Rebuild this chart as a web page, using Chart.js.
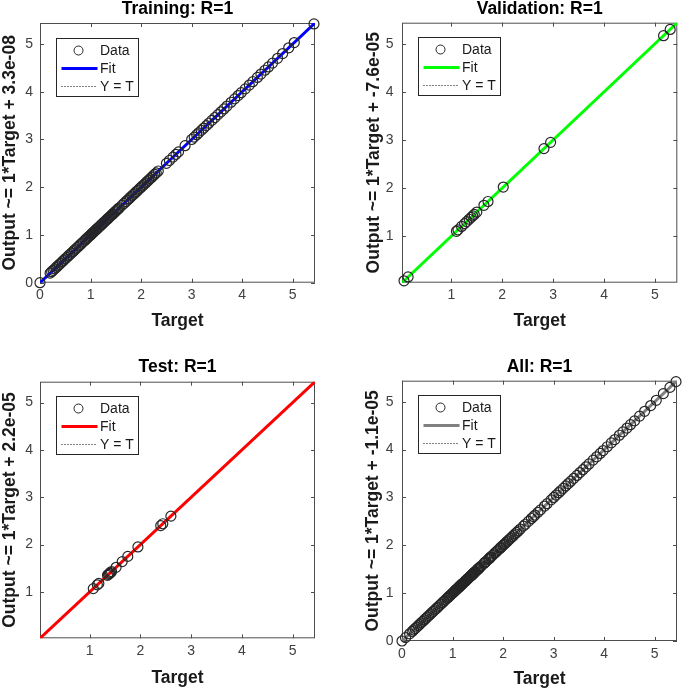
<!DOCTYPE html>
<html>
<head>
<meta charset="utf-8">
<title>Regression</title>
<script src="https://cdn.jsdelivr.net/npm/chart.js@4.4.1/dist/chart.umd.min.js"></script>
<style>
  html, body { margin: 0; padding: 0; background: #fff; }
  body { width: 685px; height: 691px; position: relative; overflow: hidden; }
  canvas { position: absolute; }
</style>
</head>
<body>
<canvas id="trainChart" width="342" height="340" style="left:0;top:0"></canvas>
<canvas id="valChart" width="323" height="340" style="left:362px;top:0"></canvas>
<canvas id="testChart" width="342" height="346" style="left:0;top:345px"></canvas>
<canvas id="allChart" width="323" height="346" style="left:362px;top:345px"></canvas>
<script>
// targets (outputs sit on the same values, R=1)
const trainTargets = [0.00, 0.20, 0.23, 0.26, 0.29, 0.32, 0.35, 0.38, 0.41, 0.44, 0.47, 0.50, 0.53, 0.56, 0.59,
  0.62, 0.65, 0.68, 0.71, 0.74, 0.77, 0.80, 0.83, 0.86, 0.89, 0.91, 0.93, 0.95, 0.97, 0.99, 1.01, 1.03, 1.05,
  1.07, 1.09, 1.11, 1.13, 1.15, 1.17, 1.19, 1.21, 1.23, 1.25, 1.27, 1.29, 1.31, 1.33, 1.35, 1.37, 1.39, 1.41,
  1.43, 1.45, 1.47, 1.49, 1.51, 1.53, 1.55, 1.57, 1.62, 1.66, 1.70, 1.73, 1.76, 1.79, 1.82, 1.85, 1.88, 1.91,
  1.94, 1.97, 2.00, 2.03, 2.06, 2.09, 2.12, 2.15, 2.18, 2.21, 2.24, 2.27, 2.30, 2.34, 2.50, 2.56, 2.63, 2.69,
  2.74, 2.87, 3.00, 3.05, 3.10, 3.14, 3.19, 3.24, 3.29, 3.34, 3.40, 3.46, 3.52, 3.58, 3.64, 3.70, 3.78, 3.85,
  3.92, 3.98, 4.06, 4.14, 4.21, 4.30, 4.37, 4.45, 4.52, 4.60, 4.70, 4.80, 4.92, 5.03, 5.42];
const valTargets = [0.07, 0.15, 1.10, 1.13, 1.20, 1.26, 1.30, 1.35, 1.39, 1.42, 1.45, 1.50, 1.64, 1.72,
  2.02, 2.82, 2.95, 5.17, 5.30];
const testTargets = [1.07, 1.15, 1.18, 1.35, 1.37, 1.39, 1.41, 1.43, 1.52, 1.64, 1.75, 1.95, 2.40, 2.44, 2.60];
const allTargets = trainTargets.concat(valTargets, testTargets);

const panelNames = ['Training', 'Validation', 'Test', 'All'];
const rValues = ['1', '1', '1', '1'];
const fitSlopes = [1, 1, 1, 1];
const fitIntercepts = ['3.3e-08', '-7.6e-05', '2.2e-05', '-1.1e-05'];
const fitColors = ['#0000ff', '#00ff00', '#ff0000', '#808080'];
const axisMin = [0, 0.03, 0.02, 0];
const axisMax = [5.44, 5.44, 5.44, 5.44];
const tickValues = [0, 1, 2, 3, 4, 5];

const FONT = "'Liberation Sans', Arial, Helvetica, sans-serif";

// per panel layout, so the plot boxes land where the original figure has them
const layouts = [
  { padRight: 27, xAxisHeight: 57.3, titleTop: 0, titleBottom: 5.5, yTitlePad: 1.3, xTitlePad: 10.2, yTickPad: 7 },
  { padRight: 7.7, xAxisHeight: 57.3, titleTop: 0, titleBottom: 5.2, yTitlePad: 3, xTitlePad: 10.2, yTickPad: 8.5 },
  { padRight: 27, xAxisHeight: 52.7, titleTop: 13.8, titleBottom: 5.4, yTitlePad: 1.3, xTitlePad: 4, yTickPad: 7 },
  { padRight: 8, xAxisHeight: 50, titleTop: 13.8, titleBottom: 4.4, yTitlePad: 2.6, xTitlePad: 3.5, yTickPad: 8.5 }
];

const axesBox = {
  id: 'axesBox',
  beforeDatasetsDraw(chart) {
    const { ctx, chartArea: a, scales: { x, y } } = chart;
    ctx.save();
    ctx.strokeStyle = '#4d4d4d';
    ctx.lineWidth = 1;
    ctx.strokeRect(a.left + 0.5, a.top + 0.5, a.right - a.left - 1, a.bottom - a.top - 1);
    ctx.beginPath();
    x.ticks.forEach(t => {
      const px = Math.round(x.getPixelForValue(t.value)) + 0.5;
      ctx.moveTo(px, a.bottom); ctx.lineTo(px, a.bottom - 4);
      ctx.moveTo(px, a.top); ctx.lineTo(px, a.top + 4);
    });
    y.ticks.forEach(t => {
      const py = Math.round(y.getPixelForValue(t.value)) + 0.5;
      ctx.moveTo(a.left, py); ctx.lineTo(a.left + 4, py);
      ctx.moveTo(a.right, py); ctx.lineTo(a.right - 4, py);
    });
    ctx.stroke();
    ctx.restore();
  }
};

// boxed legend inside the axes, top left, like the original figure
const boxLegend = {
  id: 'boxLegend',
  afterDatasetsDraw(chart) {
    const { ctx, chartArea: a } = chart;
    const bx = Math.round(a.left + 15.5) + 0.5;
    const by = Math.round(a.top + 14.7) + 0.5;
    const bw = 82, bh = 58;
    ctx.save();
    ctx.fillStyle = '#fff';
    ctx.fillRect(bx, by, bw, bh);
    ctx.strokeStyle = '#262626';
    ctx.lineWidth = 1;
    ctx.strokeRect(bx, by, bw, bh);
    ctx.font = '14px ' + FONT;
    ctx.textBaseline = 'middle';
    ctx.textAlign = 'left';
    chart.data.datasets.forEach((ds, i) => {
      const ry = by + 12 + i * 18;
      ctx.save();
      if (!ds.showLine) {
        ctx.beginPath();
        ctx.arc(bx + 22, ry, 4.5, 0, Math.PI * 2);
        ctx.strokeStyle = ds.pointBorderColor;
        ctx.lineWidth = 1;
        ctx.stroke();
      } else {
        ctx.beginPath();
        ctx.setLineDash(ds.borderDash || []);
        ctx.strokeStyle = ds.borderColor;
        ctx.lineWidth = ds.borderWidth;
        ctx.moveTo(bx + 5, ry);
        ctx.lineTo(bx + 41, ry);
        ctx.stroke();
      }
      ctx.restore();
      ctx.fillStyle = '#1a1a1a';
      ctx.fillText(ds.label, bx + 43.5, ry + 1);
    });
    ctx.restore();
  }
};

function makePanel(canvasId, targets, i) {
  const L = layouts[i];
  const lo = axisMin[i], hi = axisMax[i];
  const b = parseFloat(fitIntercepts[i]);
  const points = targets.map(t => ({ x: t, y: t }));

  const tickAxis = (isX) => ({
    type: 'linear',
    min: lo,
    max: hi,
    grid: { display: false, drawTicks: false },
    border: { display: false },
    ticks: {
      font: { family: FONT, size: 14 },
      color: '#404040',
      padding: isX ? 4.5 : L.yTickPad,
      maxRotation: 0,
      autoSkip: false
    },
    afterBuildTicks: axis => {
      axis.ticks = tickValues.filter(v => v >= axis.min && v <= axis.max).map(v => ({ value: v }));
    },
    afterFit: axis => {
      if (isX) axis.height = L.xAxisHeight; else axis.width = 40;
    },
    title: {
      display: true,
      text: isX ? 'Target' : 'Output ~= ' + fitSlopes[i] + '*Target + ' + fitIntercepts[i],
      color: '#1a1a1a',
      font: { family: FONT, size: 17.5, weight: 'bold', lineHeight: 1 },
      padding: isX ? { top: 0, bottom: L.xTitlePad } : { top: L.yTitlePad, bottom: 0 }
    }
  });

  new Chart(document.getElementById(canvasId), {
    type: 'scatter',
    data: {
      datasets: [{
        label: 'Data',
        data: points,
        showLine: false,
        pointStyle: 'circle',
        pointRadius: 5,
        pointBorderWidth: 1.2,
        pointBorderColor: '#262626',
        pointBackgroundColor: 'rgba(0,0,0,0)',
        clip: false,
        order: 0
      }, {
        label: 'Fit',
        data: [{ x: lo, y: fitSlopes[i] * lo + b }, { x: hi, y: fitSlopes[i] * hi + b }],
        showLine: true,
        borderColor: fitColors[i],
        borderWidth: 3,
        pointRadius: 0,
        order: 1
      }, {
        label: 'Y = T',
        data: [{ x: lo, y: lo }, { x: hi, y: hi }],
        showLine: true,
        borderColor: '#000',
        borderWidth: 1,
        borderDash: [1, 2],
        pointRadius: 0,
        order: 2
      }]
    },
    options: {
      responsive: false,
      maintainAspectRatio: false,
      animation: false,
      events: [],
      layout: { padding: { left: 0, right: L.padRight, top: 0, bottom: 0 } },
      scales: {
        x: tickAxis(true),
        y: tickAxis(false)
      },
      plugins: {
        legend: { display: false },
        tooltip: { enabled: false },
        title: {
          display: true,
          text: panelNames[i] + ': R=' + rValues[i],
          fullSize: false,
          color: '#000',
          font: { family: FONT, size: 17.5, weight: 'bold', lineHeight: 1 },
          padding: { top: L.titleTop, bottom: L.titleBottom }
        }
      }
    },
    plugins: [axesBox, boxLegend]
  });
}

makePanel('trainChart', trainTargets, 0);
makePanel('valChart', valTargets, 1);
makePanel('testChart', testTargets, 2);
makePanel('allChart', allTargets, 3);
</script>
</body>
</html>
